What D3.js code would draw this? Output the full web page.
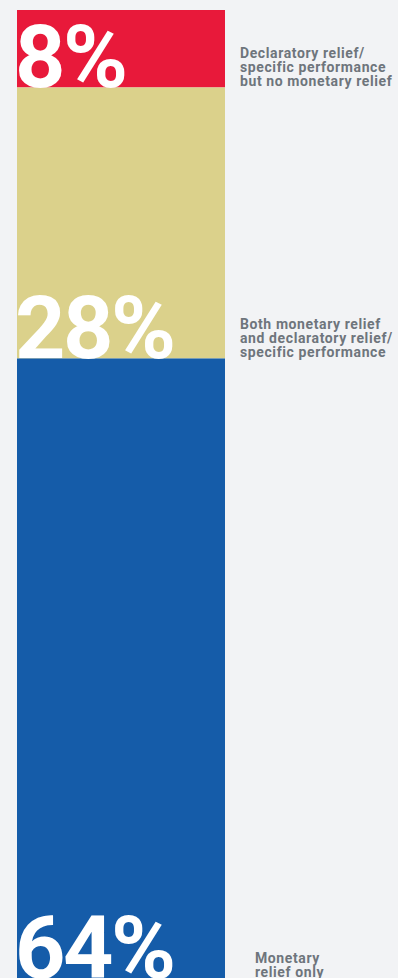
<!DOCTYPE html>
<html>
<head>
<meta charset="utf-8">
<script src="https://cdn.jsdelivr.net/npm/d3@7"></script>
<style>
  html, body { margin: 0; padding: 0; background: #f2f3f5; }
  svg { display: block; }
</style>
</head>
<body>
<svg id="chart" width="398" height="978"></svg>
<script>
// Share of remedies sought, stacked top to bottom
const categories = [
  "Declaratory relief/\nspecific performance\nbut no monetary relief",
  "Both monetary relief\nand declaratory relief/\nspecific performance",
  "Monetary\nrelief only"
];
const shares = [8, 28, 64];
const shareLabels = ["8%", "28%", "64%"];
const colors = ["#e8193a", "#dbd18b", "#155ca9"];

const svg = d3.select("#chart");

const y = d3.scaleLinear().domain([0, 100]).range([10, 978]);
const x = d3.scaleBand().domain(["all"]).range([17, 225]).padding(0);

// cumulative start/end for each segment
let acc = 0;
const segs = shares.map((v, i) => {
  const s = { i, v, start: acc, end: acc + v, cat: categories[i], label: shareLabels[i], color: colors[i] };
  acc += v;
  return s;
});

svg.selectAll("rect.seg")
  .data(segs)
  .join("rect")
  .attr("class", "seg")
  .attr("x", x("all"))
  .attr("width", x.bandwidth())
  .attr("y", d => y(d.start))
  .attr("height", d => y(d.end) - y(d.start))
  .attr("fill", d => d.color);

// big percentage figures sitting on each segment's lower edge
svg.selectAll("text.pct")
  .data(segs)
  .join("text")
  .attr("class", "pct")
  .attr("x", x("all") - 2)
  .attr("y", d => y(d.end))
  .attr("fill", "#ffffff")
  .attr("font-family", "Roboto, 'Noto Sans', sans-serif")
  .attr("font-weight", 700)
  .attr("font-size", 88)
  .attr("letter-spacing", -2.5)
  .text(d => d.label);

// category descriptions to the right
const lineH = 14.4;
const labelX = [240, 240, 255];
svg.selectAll("text.cat")
  .data(segs)
  .join("text")
  .attr("class", "cat")
  .attr("x", d => labelX[d.i])
  .attr("fill", "#6e757c")
  .attr("font-family", "Roboto, 'Noto Sans', sans-serif")
  .attr("font-weight", 700)
  .attr("font-size", 14)
  .attr("letter-spacing", 0.6)
  .each(function(d) {
    const lines = d.cat.split("\n");
    const base = y(d.end) - 1 - (lines.length - 1) * lineH;
    d3.select(this).selectAll("tspan")
      .data(lines)
      .join("tspan")
      .attr("x", labelX[d.i])
      .attr("y", (l, k) => base + k * lineH)
      .text(l => l);
  });
</script>
</body>
</html>
